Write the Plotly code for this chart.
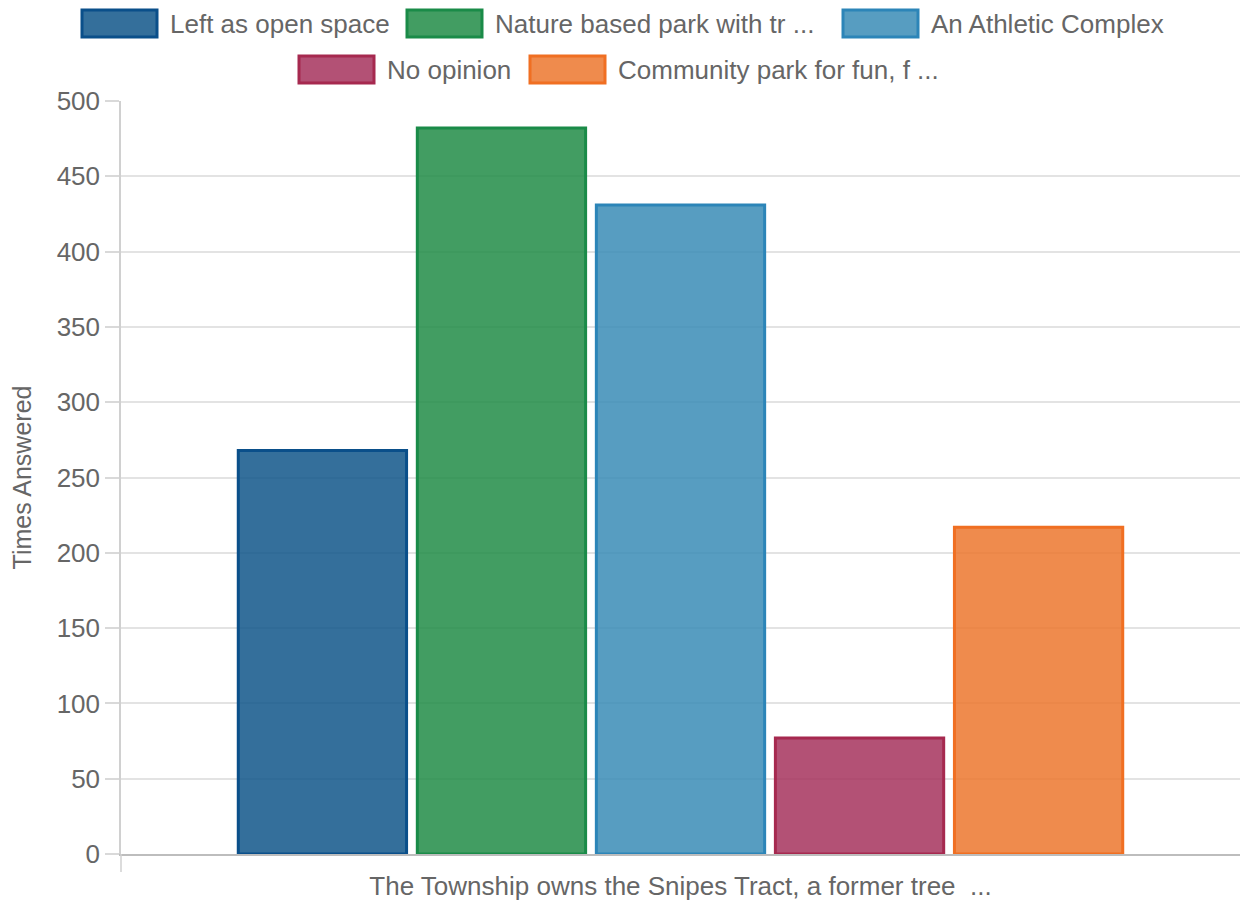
import plotly.graph_objects as go

# Survey responses for a single question
question = ["The Township owns the Snipes Tract, a former tree  ..."]
answers = [
    "Left as open space",
    "Nature based park with tr ...",
    "An Athletic Complex",
    "No opinion",
    "Community park for fun, f ...",
]
counts = [268, 482, 431, 77, 217]

fill_colors = [
    "rgba(17,86,137,0.85)",
    "rgba(33,140,70,0.85)",
    "rgba(57,140,182,0.85)",
    "rgba(166,50,93,0.85)",
    "rgba(236,119,46,0.85)",
]
line_colors = ["#0a4f8a", "#1a8b48", "#2c85b8", "#a6294f", "#f06f22"]

y_ticks = list(range(0, 501, 50))

W, H = 1242, 901
M_L, M_R, M_T, M_B = 121, 2, 101, 47
FONT = "Liberation Sans, Arial, sans-serif"
TEXT = "#666666"
FS = 26

fig = go.Figure()
for name, val, fc, lc in zip(answers, counts, fill_colors, line_colors):
    fig.add_trace(go.Bar(
        x=question, y=[val], name=name,
        marker=dict(color=fc, line=dict(color=lc, width=3)),
        showlegend=False,
    ))

# Legend drawn as large swatches with labels, two centred rows (pixel layout)
legend_rows = [[0, 1, 2], [3, 4]]
legend_x = {0: 82, 1: 407, 2: 843, 3: 299, 4: 530}
row_y = [10, 56]
sw_w, sw_h = 75, 27


def px(v):
    return (v - M_L) / (W - M_L - M_R)


def py(v):
    return 1 - (v - M_T) / (H - M_T - M_B)


shapes = []
annotations = []
for r, row in enumerate(legend_rows):
    for i in row:
        x0 = legend_x[i]
        y0 = row_y[r]
        shapes.append(dict(
            type="rect", xref="paper", yref="paper",
            x0=px(x0), x1=px(x0 + sw_w), y0=py(y0 + sw_h), y1=py(y0),
            fillcolor=fill_colors[i], line=dict(color=line_colors[i], width=3),
        ))
        annotations.append(dict(
            xref="paper", yref="paper", x=px(x0 + sw_w + 11), y=py(y0 + sw_h / 2),
            xanchor="left", yanchor="middle", text=answers[i], showarrow=False,
            font=dict(family=FONT, size=FS, color=TEXT),
        ))

# Short stub of the y axis line below the baseline
shapes.append(dict(
    type="line", xref="paper", yref="paper",
    x0=0, x1=0, y0=0, y1=-18 / (H - M_T - M_B),
    line=dict(color="#d0d0d0", width=1.5),
))

fig.update_layout(
    width=W, height=H,
    margin=dict(l=M_L, r=M_R, t=M_T, b=M_B),
    paper_bgcolor="white", plot_bgcolor="white",
    barmode="group", bargap=0.2, bargroupgap=0.06,
    font=dict(family=FONT, size=FS, color=TEXT),
    shapes=shapes, annotations=annotations,
    xaxis=dict(
        showgrid=False, showline=True, linecolor="#bdbdbd", linewidth=1.5,
        ticks="outside", ticklen=8, tickcolor="rgba(0,0,0,0)", automargin=False,
        tickfont=dict(size=FS, color=TEXT), zeroline=False,
    ),
    yaxis=dict(
        range=[0, 500], tickvals=y_ticks, showgrid=True, gridcolor="#e3e3e3",
        gridwidth=1.5, showline=True, linecolor="#d0d0d0", linewidth=1.5,
        ticks="outside", ticklen=14, tickcolor="#d9d9d9", tickwidth=1.5,
        tickfont=dict(size=FS, color=TEXT), zeroline=False, automargin=False,
        title=dict(text="Times Answered", font=dict(size=25, color=TEXT), standoff=18),
    ),
)

fig.write_html("out.html")
